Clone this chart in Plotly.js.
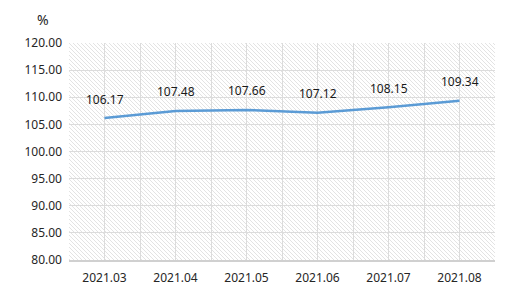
<!DOCTYPE html>
<html>
<head>
<meta charset="utf-8">
<script src="https://cdn.plot.ly/plotly-3.0.1.min.js"></script>
<style>
  html, body { margin: 0; padding: 0; background: #ffffff; }
  #chart { width: 514px; height: 303px; }
</style>
</head>
<body>
<div id="chart"></div>
<script>
// Monthly index values (%)
const months = ['2021.03', '2021.04', '2021.05', '2021.06', '2021.07', '2021.08'];
const values = [106.17, 107.48, 107.66, 107.12, 108.15, 109.34];
const yTicks = [80, 85, 90, 95, 100, 105, 110, 115, 120];

// Diagonal hatch used as the plot-area background
const hatchSvg =
  '<svg xmlns="http://www.w3.org/2000/svg" width="426" height="217">' +
  '<defs><pattern id="h" width="4" height="4" patternUnits="userSpaceOnUse">' +
  '<path d="M-1,-1 L5,5 M-1,3 L1,5 M3,-1 L5,1" stroke="#e0e0e0" stroke-width="0.9"/>' +
  '</pattern></defs>' +
  '<rect width="100%" height="100%" fill="#ffffff"/>' +
  '<rect width="100%" height="100%" fill="url(#h)"/></svg>';
const hatchUri = 'data:image/svg+xml;charset=utf-8,' + encodeURIComponent(hatchSvg);

const font = { family: 'Noto Sans, DejaVu Sans, sans-serif', size: 12, color: '#262626' };

const traces = [{
  type: 'scatter',
  mode: 'lines',
  x: months,
  y: values,
  line: { color: '#5b9bd5', width: 2.5 },
  hoverinfo: 'x+y',
  showlegend: false
}, {
  // Invisible companion trace so the boundary-grid axis is laid out
  type: 'scatter',
  mode: 'markers',
  x: months,
  y: values,
  xaxis: 'x2',
  marker: { opacity: 0 },
  hoverinfo: 'skip',
  showlegend: false
}];

// Value labels sitting above each point (category axis positions are indices)
const valueLabels = months.map((m, i) => ({
  x: i,
  y: values[i],
  xref: 'x', yref: 'y',
  text: values[i].toFixed(2),
  showarrow: false,
  xanchor: 'center', yanchor: 'middle',
  yshift: 19,
  font: { family: font.family, size: 12, color: '#1a1a1a' }
}));

const layout = {
  width: 514,
  height: 303,
  margin: { l: 69, r: 19, t: 43, b: 43 },
  paper_bgcolor: '#ffffff',
  plot_bgcolor: 'rgba(0,0,0,0)',
  font: font,
  showlegend: false,
  xaxis: {
    type: 'category',
    categoryorder: 'array',
    categoryarray: months,
    range: [-0.5, months.length - 0.5],
    showgrid: true,
    gridcolor: '#dcdcdc',
    gridwidth: 1,
    showline: true,
    linecolor: '#d0d0d0',
    linewidth: 1.5,
    ticks: '',
    ticklabelstandoff: 6,
    tickfont: font,
    zeroline: false,
    fixedrange: true
  },
  xaxis2: {
    type: 'category',
    overlaying: 'x',
    categoryorder: 'array',
    categoryarray: months,
    range: [-0.5, months.length - 0.5],
    tickson: 'boundaries',
    showgrid: true,
    gridcolor: '#dcdcdc',
    gridwidth: 1,
    showticklabels: false,
    ticks: '',
    showline: false,
    zeroline: false,
    fixedrange: true
  },
  yaxis: {
    range: [80, 120],
    tickmode: 'array',
    tickvals: yTicks,
    ticktext: yTicks.map(v => v.toFixed(2)),
    showgrid: true,
    gridcolor: '#dcdcdc',
    gridwidth: 1,
    showline: false,
    ticks: '',
    ticklabelstandoff: 6,
    tickfont: font,
    zeroline: false,
    fixedrange: true
  },
  images: [{
    source: hatchUri,
    xref: 'paper', yref: 'paper',
    x: 0, y: 1, sizex: 1, sizey: 1,
    xanchor: 'left', yanchor: 'top',
    sizing: 'stretch',
    layer: 'below'
  }],
  annotations: valueLabels.concat([{
    text: '%',
    xref: 'paper', yref: 'paper',
    x: -0.061, y: 1.106,
    xanchor: 'center', yanchor: 'middle',
    showarrow: false,
    font: { family: font.family, size: 14, color: '#262626' }
  }])
};

Plotly.newPlot('chart', traces, layout, { displayModeBar: false, staticPlot: true });
</script>
</body>
</html>
